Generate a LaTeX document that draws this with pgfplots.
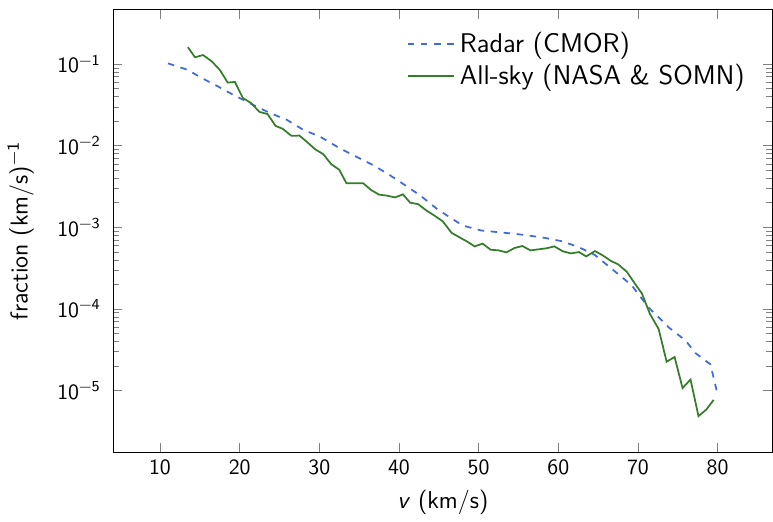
\documentclass[border=0pt]{standalone}
\usepackage{pgfplots}
\pgfplotsset{compat=1.18}
\renewcommand{\familydefault}{\sfdefault}
\definecolor{radarblue}{RGB}{65,105,225}
\definecolor{skygreen}{RGB}{52,126,42}
\begin{document}
\begin{tikzpicture}
\begin{axis}[
  scale only axis,
  width=302.5pt, height=203.1pt,
  ymode=log,
  xmin=4.1, xmax=86.9,
  ymin=1.75e-6, ymax=0.468,
  xtick={10,20,30,40,50,60,70,80},
  xticklabels={10,20,30,40,50,60,70,80},
  ytick={1e-5,1e-4,1e-3,1e-2,1e-1},
  yticklabels={10\textsuperscript{\textminus5},10\textsuperscript{\textminus4},10\textsuperscript{\textminus3},10\textsuperscript{\textminus2},10\textsuperscript{\textminus1}},
  tick label style={font=\fontsize{10}{12}\selectfont},
  yticklabel style={xshift=-2pt},
  label style={font=\fontsize{11.2}{13}\selectfont},
  xlabel={\textit{v} (km/s)},
  ylabel={fraction (km/s)\textsuperscript{\textminus1}},
  ylabel shift=4pt,
  legend style={draw=none, fill=none, font=\fontsize{12.4}{14}\selectfont, at={(0.975,0.97)}, anchor=north east, row sep=0pt},
  legend image code/.code={\draw[#1, line width=1pt] (0cm,0cm) -- (0.75cm,0cm);},
  legend cell align=left,
]
\addplot[radarblue, thick, dashed] coordinates {
(11.0,0.1019) (13.45,0.0851) (15.3,0.0670) (17.4,0.0524) (19.1,0.0425)
(21.2,0.0334) (23.8,0.0251) (25.9,0.0208) (28.0,0.0156) (30.1,0.0129)
(32.6,0.00925) (35.1,0.00695) (36.8,0.00575) (38.9,0.00432) (40.2,0.00357)
(42.7,0.00244) (44.8,0.00167) (46.1,0.00138) (48.0,0.00105) (50.3,0.000914)
(52.4,0.000871) (54.5,0.000832) (56.2,0.000794) (58.3,0.000741) (60.4,0.000676)
(62.5,0.000575) (64.6,0.000457) (67.1,0.000288) (69.2,0.000195) (71.3,0.000105)
(73.9,5.89e-5) (76.0,4.07e-5) (77.2,2.88e-5) (79.1,2.09e-5) (80.0,8.9e-6)
};
\addlegendentry{Radar (CMOR)}
\addplot[skygreen, thick] coordinates {
(13.5,0.161) (14.4,0.121) (15.4,0.129) (16.5,0.108) (17.5,0.0851)
(18.5,0.0593) (19.4,0.0604) (20.4,0.0385) (21.4,0.0334) (22.5,0.0259)
(23.5,0.0244) (24.5,0.0175) (25.4,0.0161) (26.5,0.0132) (27.5,0.0133)
(28.5,0.0110) (29.5,0.00899) (30.5,0.00787) (31.5,0.00592) (32.5,0.00508)
(33.4,0.00347) (34.5,0.00347) (35.5,0.00347) (36.5,0.00286) (37.5,0.00251)
(38.5,0.00244) (39.5,0.00232) (40.5,0.00253) (41.4,0.00200) (42.4,0.00192)
(43.5,0.00159) (44.5,0.00138) (45.5,0.00118) (46.6,0.000855) (47.5,0.000762)
(48.5,0.000673) (49.5,0.000583) (50.5,0.000630) (51.5,0.000531) (52.5,0.000521)
(53.5,0.000492) (54.5,0.000557) (55.5,0.000589) (56.5,0.000521) (57.5,0.000536)
(58.5,0.000552) (59.5,0.000583) (60.6,0.000506) (61.6,0.000478) (62.6,0.000497)
(63.5,0.000439) (64.6,0.000511) (65.6,0.000451) (66.6,0.000387) (67.5,0.000352)
(68.6,0.000285) (69.6,0.000205) (70.5,0.000154) (71.5,8.69e-5) (72.6,5.66e-5)
(73.6,2.25e-5) (74.6,2.57e-5) (75.6,1.07e-5) (76.6,1.36e-5) (77.6,4.84e-6)
(78.6,5.86e-6) (79.5,7.66e-6)
};
\addlegendentry{All-sky (NASA \& SOMN)}
\end{axis}
\path ([yshift=4.3pt]current axis.north);
\end{tikzpicture}
\end{document}
